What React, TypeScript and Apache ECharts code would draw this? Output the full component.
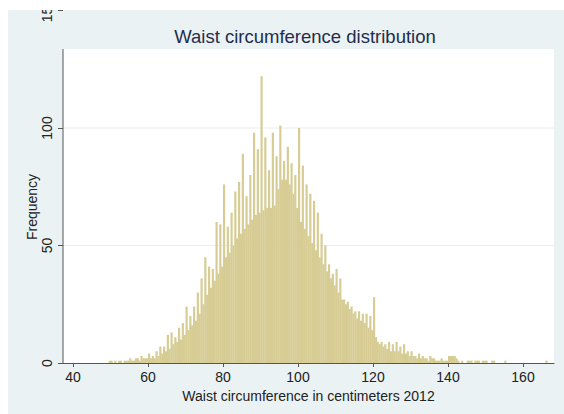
import { useEffect, useRef } from "react";
import * as echarts from "echarts";

// Histogram of waist circumference, 0.5 cm bins starting at 47 cm.
// Each pair is [whole-cm bin, half-cm bin] for one centimetre.
const BIN_WIDTH = 0.5;
const FIRST_BIN = 47;

const counts47to59 = [
  0, 0, 0, 0, 0, 1, 1, 0, 1, 0, 1, 1, 0, 1, 1, 1, 2, 1, 1, 2, 2, 1, 3, 2, 2, 2,
];
const counts60to79 = [
  4, 2, 3, 2, 5, 3, 7, 4, 7, 5, 12, 6, 13, 8, 11, 9, 15, 10, 17, 12, 24, 14, 20, 16,
  24, 18, 30, 21, 36, 25, 45, 29, 41, 32, 40, 35, 60, 38, 59, 41,
];
const counts80to99 = [
  76, 45, 58, 47, 64, 50, 73, 53, 77, 55, 89, 57, 71, 59, 80, 61, 98, 63, 91, 64,
  122, 65, 96, 66, 82, 66, 98, 67, 88, 74, 101, 78, 86, 78, 92, 76, 85, 72, 80, 66,
];
const counts100to119 = [
  100, 60, 84, 57, 76, 54, 72, 51, 69, 48, 64, 45, 55, 42, 50, 39, 42, 36, 38, 33,
  40, 30, 36, 27, 27, 25, 26, 23, 24, 21, 22, 19, 22, 18, 21, 17, 21, 15, 20, 14,
];
const counts120to167 = [
  28, 11, 9, 8, 9, 7, 8, 6, 9, 5, 8, 5, 9, 5, 7, 4, 8, 4, 5, 3, 5, 3, 3, 2, 4, 2, 3, 2,
  2, 1, 3, 2, 2, 1, 1, 1, 2, 1, 1, 1, 3, 3, 3, 3, 2, 1, 0, 1, 0, 0, 1, 1, 1, 0, 1, 1,
  1, 0, 1, 1, 1, 0, 0, 1, 1, 0, 0, 0, 0, 0, 1, 0, 0, 0, 0, 0, 0, 0, 0, 0, 0, 0, 0, 0,
  0, 0, 0, 0, 0, 0, 0, 0, 1, 0, 0, 0,
];

const binCounts = [
  ...counts47to59,
  ...counts60to79,
  ...counts80to99,
  ...counts100to119,
  ...counts120to167,
];

const xTickValues = [40, 60, 80, 100, 120, 140, 160];
const gridLineValues = [50, 100];

const X_MIN = 37.33;
const X_MAX = 168.27;
const Y_MAX = 150;
const PLOT_TOP = 133.6;

const FONT = "'Liberation Sans', Arial, Helvetica, sans-serif";
const BAR_COLOR = "#d6cc94";
const AXIS_COLOR = "#555555";
const TEXT_COLOR = "#222222";

export default function App() {
  const ref = useRef<HTMLDivElement>(null);

  useEffect(() => {
    if (!ref.current) return;
    const chart = echarts.init(ref.current, null, { renderer: "svg" });

    const binData = binCounts.map((c, i) => [FIRST_BIN + i * BIN_WIDTH, c]);

    // White plot region, its grid lines and the left axis line
    const renderFrame = (_params: any, api: any) => {
      const tl = api.coord([X_MIN, PLOT_TOP]);
      const br = api.coord([X_MAX, 0]);
      const children: any[] = [
        {
          type: "rect",
          shape: { x: tl[0], y: tl[1], width: br[0] - tl[0], height: br[1] - tl[1] },
          style: { fill: "#ffffff" },
        },
      ];
      gridLineValues.forEach((v) => {
        const a = api.coord([X_MIN, v]);
        const b = api.coord([X_MAX, v]);
        children.push({
          type: "line",
          shape: { x1: a[0], y1: a[1], x2: b[0], y2: b[1] },
          style: { stroke: "#e9eeee", lineWidth: 1 },
        });
      });
      children.push({
        type: "line",
        shape: { x1: tl[0], y1: tl[1], x2: tl[0], y2: br[1] },
        style: { stroke: AXIS_COLOR, lineWidth: 1 },
      });
      return { type: "group", children };
    };

    const renderBar = (_params: any, api: any) => {
      const start = api.value(0);
      const count = api.value(1);
      if (!count) return null;
      const top = api.coord([start, count]);
      const bottom = api.coord([start + BIN_WIDTH, 0]);
      return {
        type: "rect",
        shape: {
          x: top[0],
          y: top[1],
          // slight overlap so neighbouring bins do not leave hairline seams
          width: bottom[0] - top[0] + 0.3,
          height: bottom[1] - top[1],
        },
        style: { fill: BAR_COLOR },
      };
    };

    chart.setOption({
      animation: false,
      backgroundColor: "#eaf2f3",
      textStyle: { fontFamily: FONT },
      title: {
        text: "Waist circumference distribution",
        left: 297,
        top: 17,
        padding: 0,
        textAlign: "center",
        textStyle: {
          fontFamily: FONT,
          fontSize: 18.5,
          fontWeight: "normal",
          color: "#1f2d4e",
        },
      },
      grid: { left: 55, right: 10, top: 0.5, bottom: 51, outerBoundsMode: "none" },
      xAxis: {
        type: "value",
        min: X_MIN,
        max: X_MAX,
        name: "Waist circumference in centimeters 2012",
        nameLocation: "middle",
        nameGap: 21,
        nameTextStyle: { fontFamily: FONT, fontSize: 14, color: TEXT_COLOR },
        axisLine: { show: true, lineStyle: { color: AXIS_COLOR, width: 1 } },
        axisTick: {
          show: true,
          length: 4,
          customValues: xTickValues,
          lineStyle: { color: AXIS_COLOR },
        },
        axisLabel: {
          customValues: xTickValues,
          fontFamily: FONT,
          fontSize: 14,
          color: TEXT_COLOR,
          margin: 7,
        },
        splitLine: { show: false },
      },
      yAxis: {
        type: "value",
        min: 0,
        max: Y_MAX,
        interval: 50,
        axisLine: { show: false },
        axisTick: { show: true, length: 5, lineStyle: { color: AXIS_COLOR } },
        axisLabel: {
          rotate: 90,
          fontFamily: FONT,
          fontSize: 14,
          color: TEXT_COLOR,
          margin: 9,
        },
        splitLine: { show: false },
      },
      graphic: [
        {
          type: "text",
          x: 24,
          y: 197,
          rotation: Math.PI / 2,
          style: {
            text: "Frequency",
            fontFamily: FONT,
            fontSize: 14,
            fill: TEXT_COLOR,
            textAlign: "center",
            textVerticalAlign: "middle",
          },
        },
      ],
      series: [
        {
          type: "custom",
          z: 1,
          silent: true,
          clip: false,
          data: [[X_MIN, 0]],
          encode: { x: 0, y: 1 },
          renderItem: renderFrame,
        },
        {
          type: "custom",
          name: "Frequency",
          z: 2,
          data: binData,
          encode: { x: 0, y: 1 },
          renderItem: renderBar,
        },
      ],
    });

    return () => chart.dispose();
  }, []);

  return (
    <div
      ref={ref}
      style={{
        position: "absolute",
        left: 8,
        top: 10,
        width: 556,
        height: 404,
        overflow: "hidden",
      }}
    />
  );
}
